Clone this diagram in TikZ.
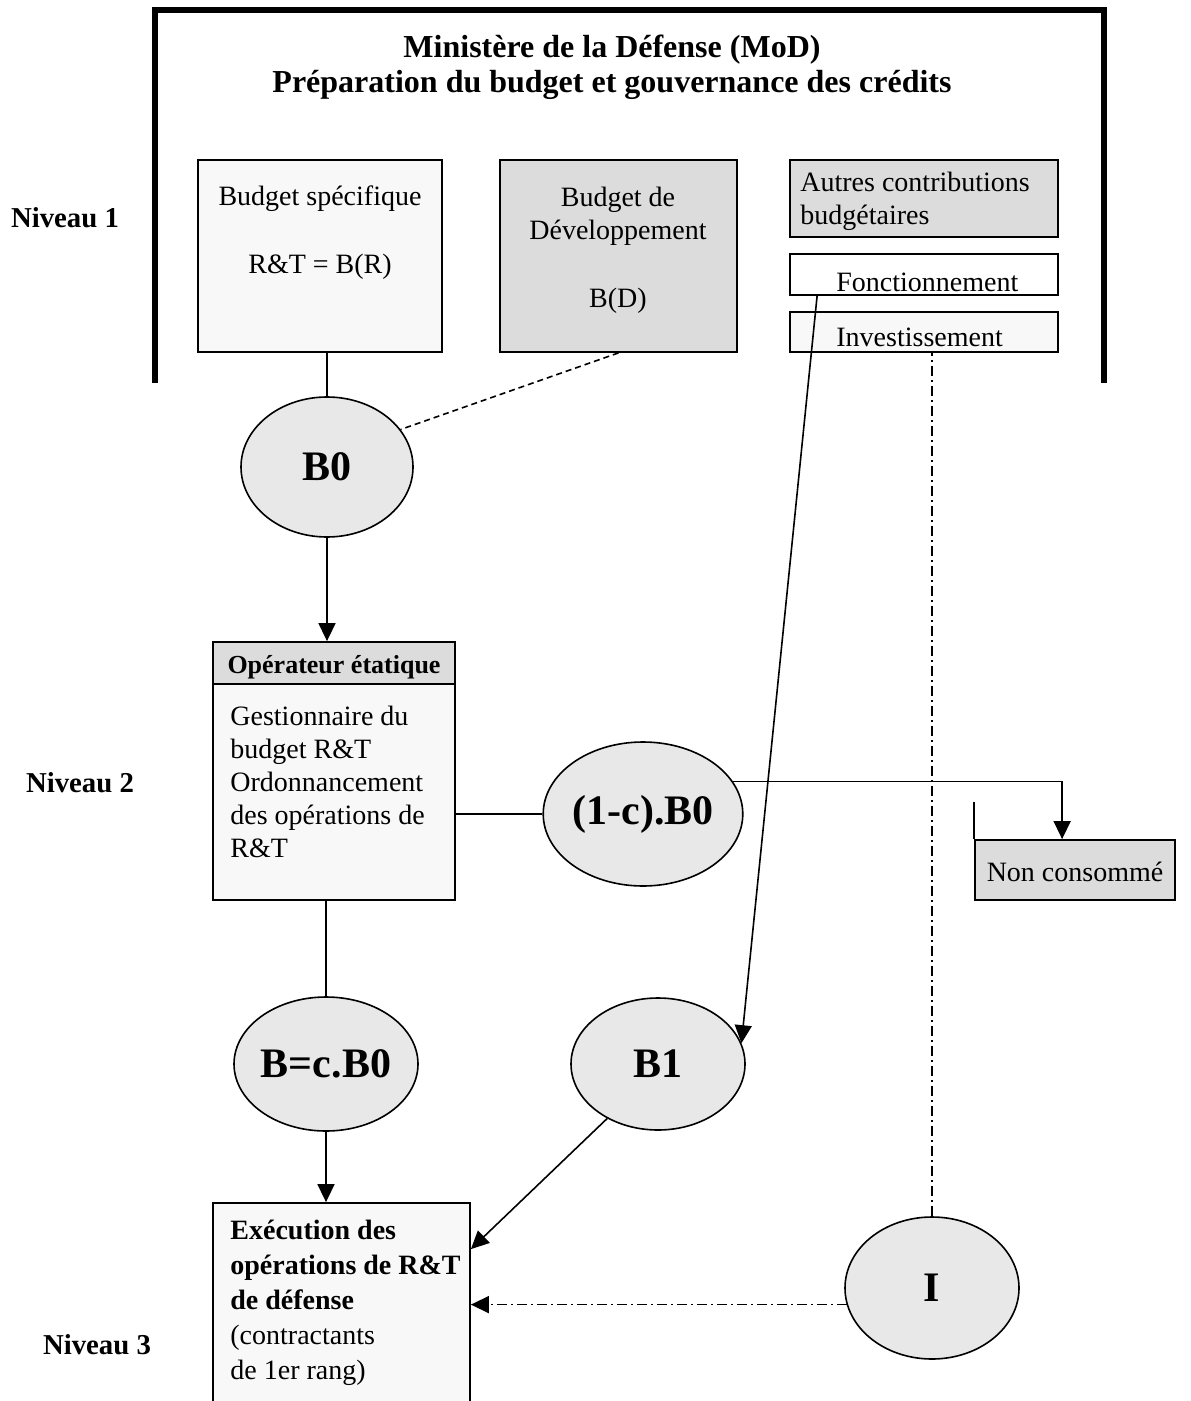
\documentclass[tikz,border=0pt]{standalone}
\usepackage{fontspec}
\setmainfont{Liberation Serif}
\usetikzlibrary{arrows.meta,calc,shapes.geometric,fit}

\definecolor{paper}{RGB}{248,248,248}
\definecolor{boxgray}{RGB}{220,220,220}
\definecolor{ellgray}{RGB}{232,232,232}

\newcommand{\bodyfont}{\fontsize{14}{16.5}\selectfont}
\newcommand{\headfont}{\fontsize{13}{15}\selectfont\bfseries}
\newcommand{\bigfont}{\fontsize{21}{24}\selectfont\bfseries}
\newcommand{\titlefont}{\fontsize{16}{17.5}\selectfont\bfseries}
\newcommand{\levelfont}{\fontsize{14.4}{16}\selectfont\bfseries}

\begin{document}
\begin{tikzpicture}[x=0.5pt,y=-0.5pt,
  box/.style={draw, line width=0.9pt, inner sep=0pt, rectangle},
  oval/.style={draw, ellipse, line width=0.8pt, fill=ellgray, inner sep=0pt, font=\bigfont},
  txt/.style={inner sep=0pt, font=\bodyfont},
  link/.style={line width=0.8pt},
  arrowed/.style={-{Triangle[width=8.5pt,length=9pt]}},
  dashlink/.style={link, dash pattern=on 3pt off 2pt},
  dotlink/.style={link, dash pattern=on 5pt off 2pt on 1pt off 2pt},
]
\clip (0,0) rectangle (1190,1401);
\fill[white] (0,0) rectangle (1190,1401);

% Ministry frame, open at the bottom
\draw[line width=3pt, line join=miter] (155,383) -- (155,10) -- (1104,10) -- (1104,383);
\node[inner sep=0pt, font=\titlefont, align=center, anchor=north] (title) at (612,32.5)
  {\strut Ministère de la Défense (MoD)\\Préparation du budget et gouvernance des crédits};

% Level labels
\node[font=\levelfont] (niv1) at (65,218) {Niveau 1};
\node[font=\levelfont] (niv2) at (80,783) {Niveau 2};
\node[font=\levelfont] (niv3) at (97,1345) {Niveau 3};

% Level 1 budgets
\node[box, fill=paper, fit={(198,160)(442,352)}] (bspec) {};
\node[txt, align=center, anchor=north] (bspec-t) at (320,182)
  {\strut Budget spécifique\\[17.5pt]R\&T = B(R)};
\node[box, fill=boxgray, fit={(500,160)(737,352)}] (bdev) {};
\node[txt, align=center, anchor=north] (bdev-t) at (618,183)
  {\strut Budget de\\Développement\\[17.5pt]B(D)};
\node[box, fill=boxgray, fit={(790,160)(1058,237)}] (autres) {};
\node[txt, align=left, anchor=north west] (autres-t) at (800,168)
  {\strut Autres contributions\\budgétaires};
\node[box, fill=white, fit={(790,254)(1058,295)}] (fonc) {};
\node[txt, anchor=base west] (fonc-t) at (836,292) {Fonctionnement};
\node[box, fill=paper, fit={(790,312)(1058,352)}] (invest) {};
\node[txt, anchor=base west] (invest-t) at (836,347) {Investissement};

% Level 2: state operator
\node[box, fill=boxgray, fit={(213,642)(455,684)}] (ophead) {};
\node[inner sep=0pt, font=\headfont, anchor=base] (ophead-t) at (334,673) {Opérateur étatique};
\node[box, fill=paper, fit={(213,684)(455,900)}] (opbody) {};
\node[txt, align=left, anchor=north west] (opbody-t) at (230,702)
  {\strut Gestionnaire du\\budget R\&T\\Ordonnancement\\des opérations de\\R\&T};

\node[box, fill=boxgray, fit={(975,840)(1175,900)}] (noncons) {};
\node[txt, anchor=base] (noncons-t) at (1075,881) {Non consommé};

% Level 3: execution
\node[box, fill=paper, fit={(213,1203)(470,1430)}] (exec) {};
\node[inner sep=0pt, align=left, anchor=north west, font=\fontsize{14}{17.5}\selectfont] (exec-t) at (230,1214.5)
  {\strut\textbf{Exécution des}\\\textbf{opérations de R\&T}\\\textbf{de défense}\\(contractants\\de 1er rang)};

% Budget flows
\node[oval, minimum width=86pt, minimum height=70pt] (B0) at (327,467) {B0};
\node[oval, minimum width=86pt, minimum height=72pt] (cB0) at (643,814) {(1-c).B0};
\node[oval, minimum width=86pt, minimum height=67pt] (Bc) at (326,1064) {B=c.B0};
\node[oval, minimum width=87pt, minimum height=66pt] (B1) at (658,1064) {B1};
\node[oval, minimum width=87pt, minimum height=71pt] (I) at (932,1288) {I};

% Connector end points on box edges
\coordinate (foncout) at ($(fonc.south west)+(28,0)$);
\coordinate (ncin) at ($(noncons.north west)+(88,0)$);
\coordinate (execin) at ($(exec.north east)+(0,47)$);

% Connectors
\draw[link] (B0.north) -- (B0.north |- bspec.south);
\draw[dashlink] (bdev.south) -- (B0.27);
\draw[link, arrowed] (B0.south) -- (B0.south |- ophead.north);
\draw[link] (cB0.west) -- (cB0.west -| opbody.east);
\draw[link, arrowed] (cB0.20) -- (cB0.20 -| ncin) -- (ncin);
\draw[link] (noncons.north west) -- ++(0,-37);
\draw[link] (Bc.north) -- (Bc.north |- opbody.south);
\draw[link, arrowed] (Bc.south) -- (Bc.south |- exec.north);
\draw[link, arrowed] (foncout) -- (B1.14);
\draw[link, arrowed] (B1.227) -- (execin);
\draw[dotlink] (I.north) -- (I.north |- invest.south);
\draw[dotlink, arrowed] (I.191) -- (I.191 -| exec.east);
\end{tikzpicture}
\end{document}
